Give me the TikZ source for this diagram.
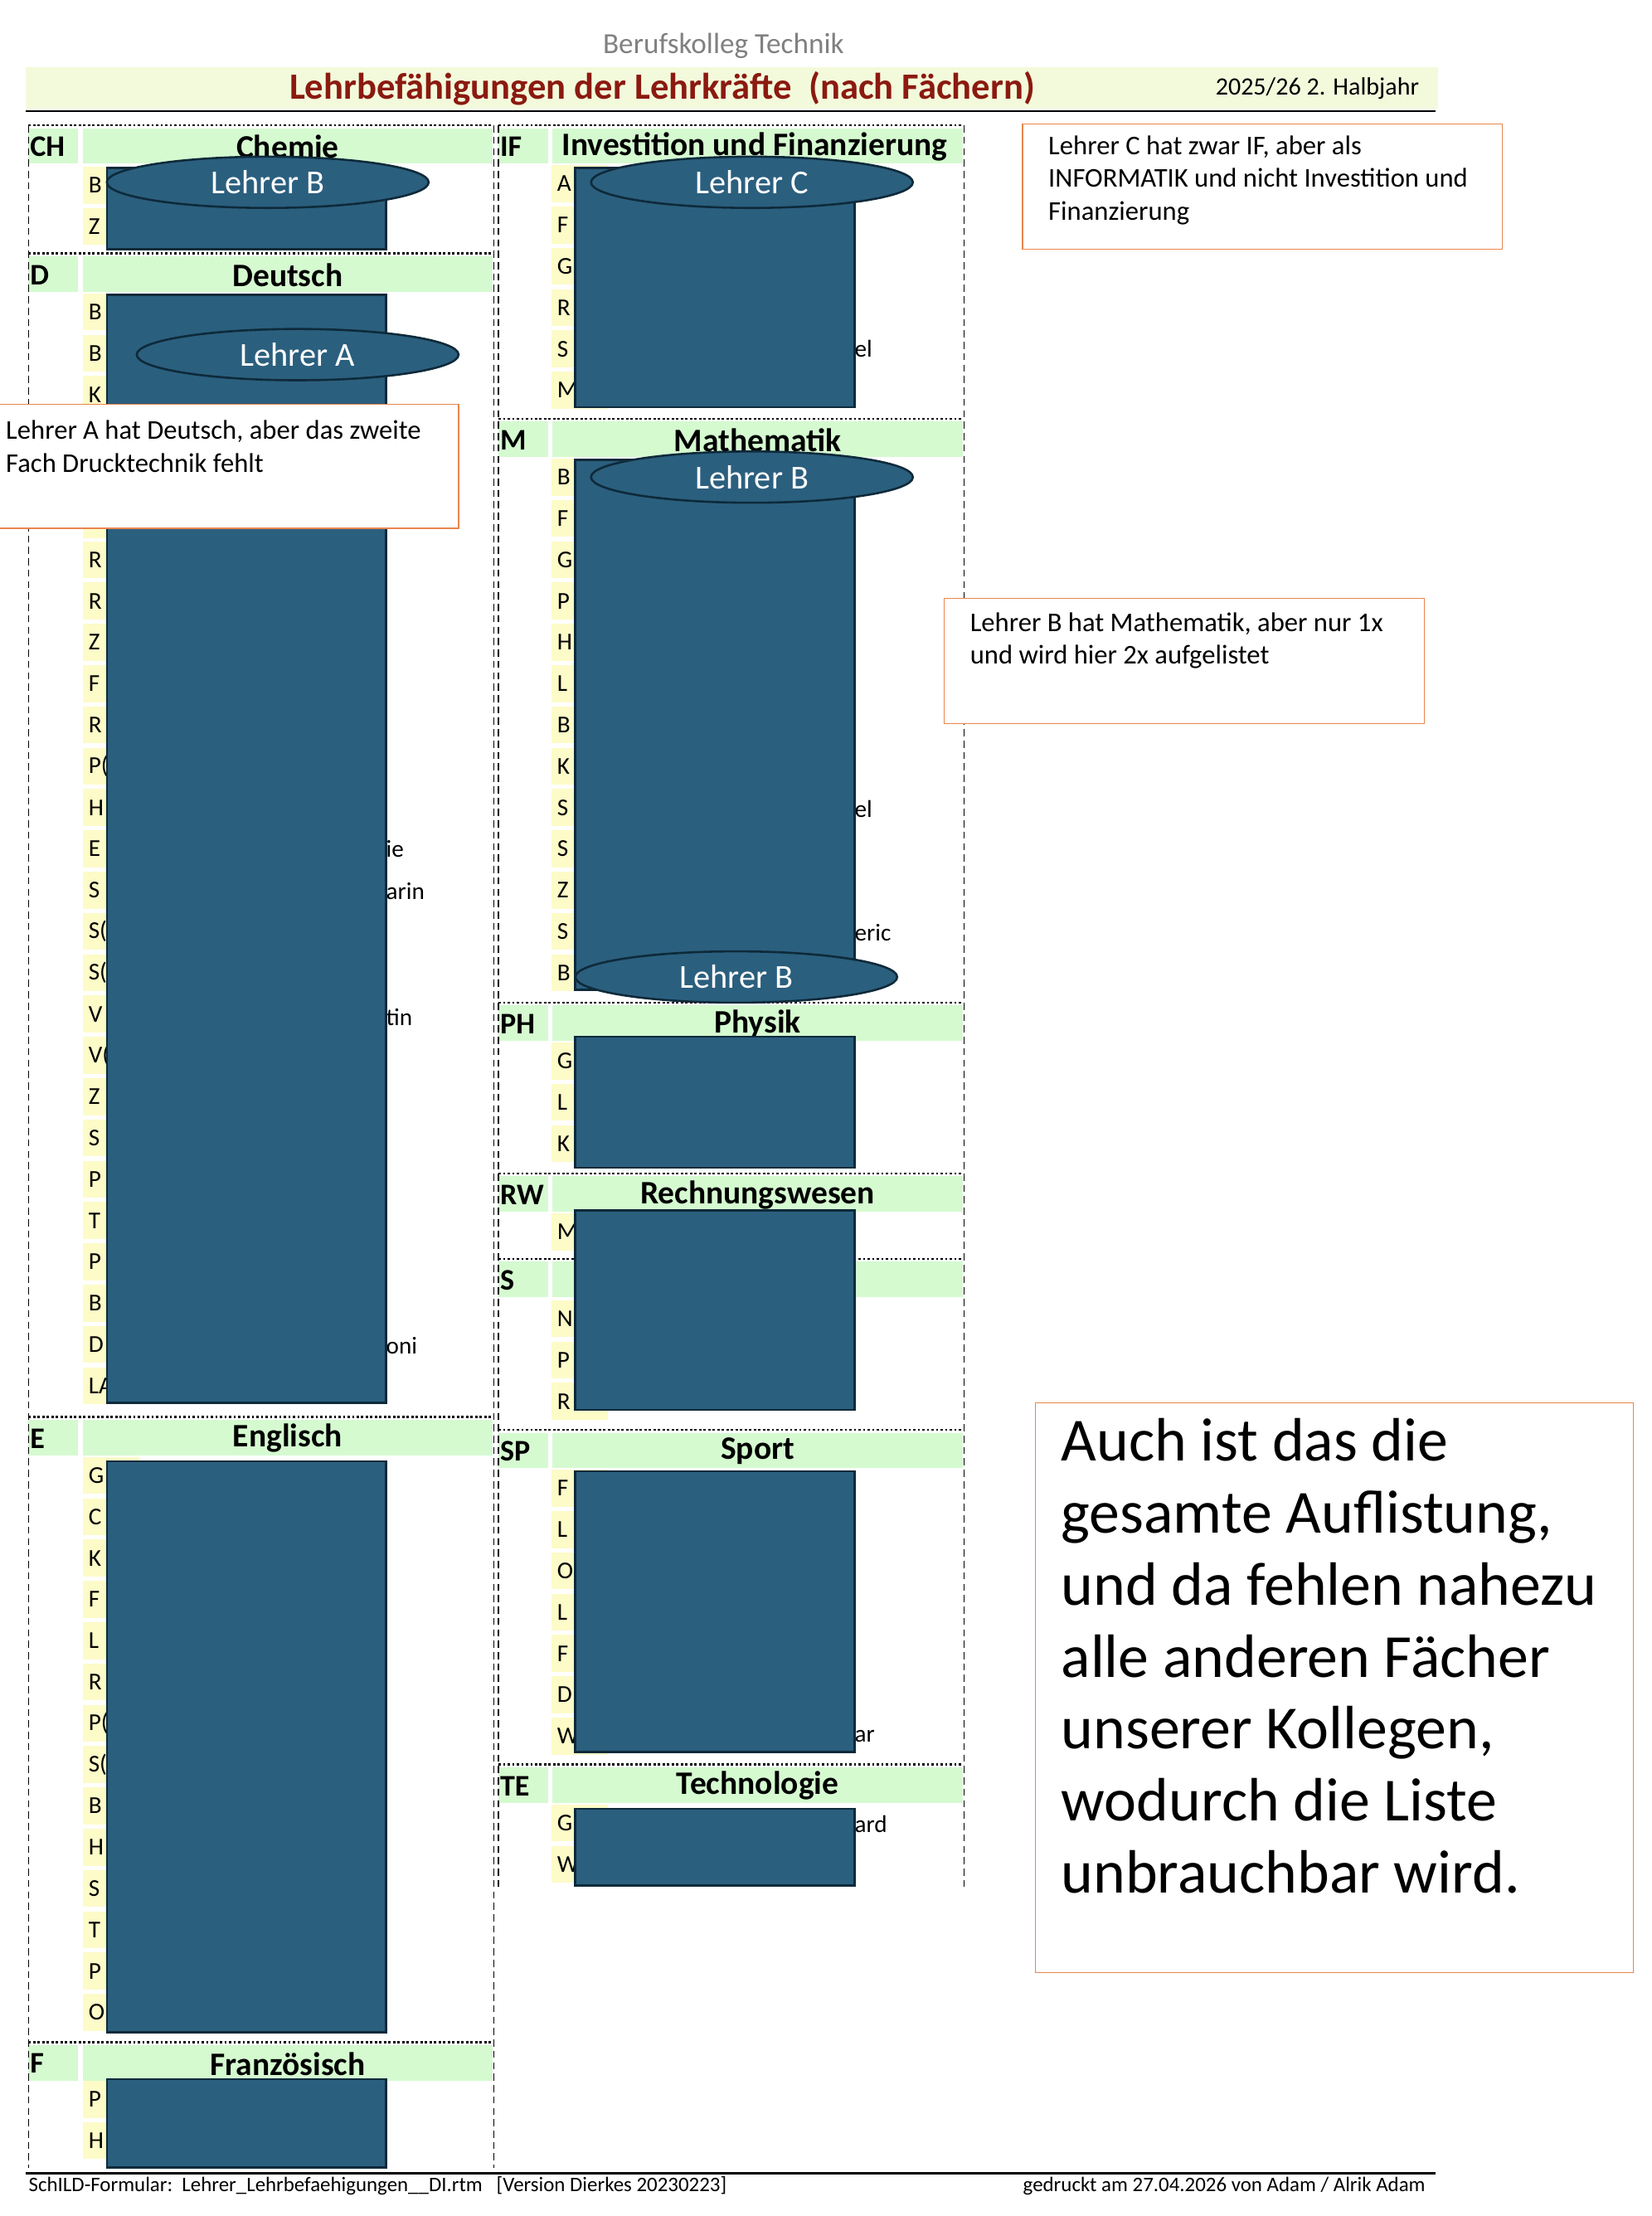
\documentclass[tikz,border=0pt]{standalone}
\usepackage{fontspec}
\setmainfont{Carlito}
\usetikzlibrary{shapes.geometric}
\begin{document}
\begin{tikzpicture}[x=1pt,y=-1pt,
 blue/.style={fill=dblue,draw=bord,line width=1.5pt},
 ell/.style={ellipse,fill=dblue,draw=bord,line width=1.5pt,minimum width=226pt,minimum height=36pt,text=white,font=\fontsize{23.5}{23.5}\selectfont,inner sep=0pt},
 call/.style={draw=ora,line width=0.8pt,fill=white},
 sep/.style={line width=1.6pt,dash pattern=on 1.6pt off 1.6pt},
 vd/.style={line width=0.7pt,dash pattern=on 5pt off 3pt},
 ttl/.style={font=\bfseries\fontsize{23}{23}\selectfont,anchor=center},
 rl/.style={font=\fontsize{17}{17}\selectfont,anchor=west,inner sep=0pt},
 ct/.style={font=\fontsize{19}{23}\selectfont,anchor=north west,align=left,inner sep=0pt}]
\definecolor{hgreen}{HTML}{D5FAD0}
\definecolor{ylw}{HTML}{FDFBC8}
\definecolor{dblue}{HTML}{2B5F7E}
\definecolor{bord}{HTML}{0E2A3A}
\definecolor{ora}{HTML}{E8864E}
\definecolor{dred}{HTML}{8B1A10}
\definecolor{tband}{HTML}{F3FADC}
\useasboundingbox (0,0) rectangle (1160,1556);
% header
\node (bk) at (508,32) {\color{gray}\fontsize{20.5}{20.5}\selectfont Berufskolleg Technik};
\fill[tband] (18,47) rectangle (1010,76);
\node[text=dred,font=\bfseries\fontsize{26}{26}\selectfont] (title) at (465,62) {Lehrbefähigungen der Lehrkräfte\ \ (nach Fächern)};
\node[font=\fontsize{17.5}{17.5}\selectfont] (hj) at (925,62) {2025/26 2. Halbjahr};
\draw[line width=1.2pt] (18,78) -- (1008,78);
% section macro
\newcommand{\sect}[5]{% x0, y top, code, title, width
 \draw[sep] (#1,#2-2) -- (#1+#5,#2-2);
 \fill[hgreen] (#1,#2) rectangle (#1+35,#2+25);
 \fill[hgreen] (#1+38,#2) rectangle (#1+#5,#2+25);
 \node[font=\bfseries\fontsize{21}{21}\selectfont,anchor=west,inner sep=0pt] at (#1+1,#2+13) {#3};
 \node[ttl] at (#1+38+0.5*#5-19,#2+13) {#4};}
\newcommand{\rows}[3]{% x, y first, list
 \foreach \t [count=\i from 0] in {#3} {
  \fill[ylw] (#1-2,#2+\i*29-13) rectangle (#1+38,#2+\i*29+13);
  \node[rl] at (#1+2,#2+\i*29) {\t};}}
% left column
\sect{20}{90}{CH}{Chemie}{326}
\rows{60}{130}{B,Z}
\sect{20}{180}{D}{Deutsch}{326}
\rows{60}{219}{B,B,K}
\fill[ylw] (58,292) rectangle (98,378);
\rows{60}{393}{R,R,Z,F,R,P(,H,E,S,S(,S(,V,V(,Z,S,P,T,P,B,D,LA}
\sect{20}{997}{E}{Englisch}{326}
\rows{60}{1036}{G,C,K,F,L,R,P(,S(,B,H,S,T,P,O}
\sect{20}{1436}{F}{Französisch}{326}
\rows{60}{1474}{P,H}
% right column
\sect{350}{90}{IF}{}{326}
\node[ttl,anchor=west] at (391,103) {Investition und Finanzierung};
\rows{389}{129}{A,F,G,R,S,M}
\sect{350}{296}{M}{Mathematik}{326}
\rows{389}{335}{B,F,G,P,H,L,B,K,S,S,Z,S,B}
\sect{350}{706}{PH}{Physik}{326}
\rows{389}{745}{G,L,K}
\sect{350}{826}{RW}{Rechnungswesen}{326}
\rows{389}{865}{M}
\sect{350}{886}{S}{}{326}
\rows{389}{926}{N,P,R}
\sect{350}{1006}{SP}{Sport}{326}
\rows{389}{1045}{F,L,O,L,F,D,W}
\sect{350}{1241}{TE}{Technologie}{326}
\rows{389}{1280}{G,W}
% vertical dashed
\draw[vd] (20,88) -- (20,1522);
\draw[vd] (347,88) -- (347,1522);
\draw[vd] (350,88) -- (350,1325);
\draw[vd] (677,88) -- (677,1325);
% side fragments
\foreach \t/\x/\y in {el/600/245,el/600/568,eric/600/655,ie/271/596,arin/271/626,tin/271/714,oni/271/945,ar/600/1219,ard/600/1281}
 \node[rl] at (\x,\y) {\t};
% blue boxes
\draw[blue] (75,118) rectangle (271,175);
\draw[blue] (75,207) rectangle (271,985);
\draw[blue] (75,1026) rectangle (271,1427);
\draw[blue] (75,1460) rectangle (271,1522);
\draw[blue] (404,118) rectangle (600,286);
\draw[blue] (404,323) rectangle (600,695);
\draw[blue] (404,728) rectangle (600,820);
\draw[blue] (404,850) rectangle (600,990);
\draw[blue] (404,1033) rectangle (600,1230);
\draw[blue] (404,1270) rectangle (600,1324);
% ellipses
\node[ell] (eb1) at (188,128) {Lehrer B};
\node[ell] (ea) at (209,249) {Lehrer A};
\node[ell] (ec) at (528,128) {Lehrer C};
\node[ell] (eb2) at (528,335) {Lehrer B};
\node[ell] (eb3) at (517,686) {Lehrer B};
% callouts
\draw[call] (-2,284) rectangle (322,371);
\node[ct] (ca) at (4,295) {Lehrer A hat Deutsch, aber das zweite\\Fach Drucktechnik fehlt};
\draw[call] (718,87) rectangle (1055,175);
\node[ct] (cc) at (736,95) {Lehrer C hat zwar IF, aber als\\INFORMATIK und nicht Investition und\\Finanzierung};
\draw[call] (663,420) rectangle (1000,508);
\node[ct] (cb) at (681,430) {Lehrer B hat Mathematik, aber nur 1x\\und wird hier 2x aufgelistet};
\draw[call] (727,985) rectangle (1147,1385);
\node[font=\fontsize{43}{50.5}\selectfont,anchor=north west,align=left,inner sep=0pt] (big) at (745,996) {Auch ist das die\\gesamte Auflistung,\\und da fehlen nahezu\\alle anderen Fächer\\unserer Kollegen,\\wodurch die Liste\\unbrauchbar wird.};
% footer
\draw[line width=1.2pt] (18,1526) -- (1008,1526);
\node[font=\fontsize{14.5}{14.5}\selectfont,anchor=west,inner sep=0pt] (f1) at (20,1535) {SchILD-Formular:\ \ Lehrer\_Lehrbefaehigungen\_\_DI.rtm\ \ \ [Version Dierkes 20230223]};
\node[font=\fontsize{14.5}{14.5}\selectfont,anchor=east,inner sep=0pt] (f2) at (1001,1535) {gedruckt am 27.04.2026 von Adam / Alrik Adam};
\end{tikzpicture}
\end{document}
